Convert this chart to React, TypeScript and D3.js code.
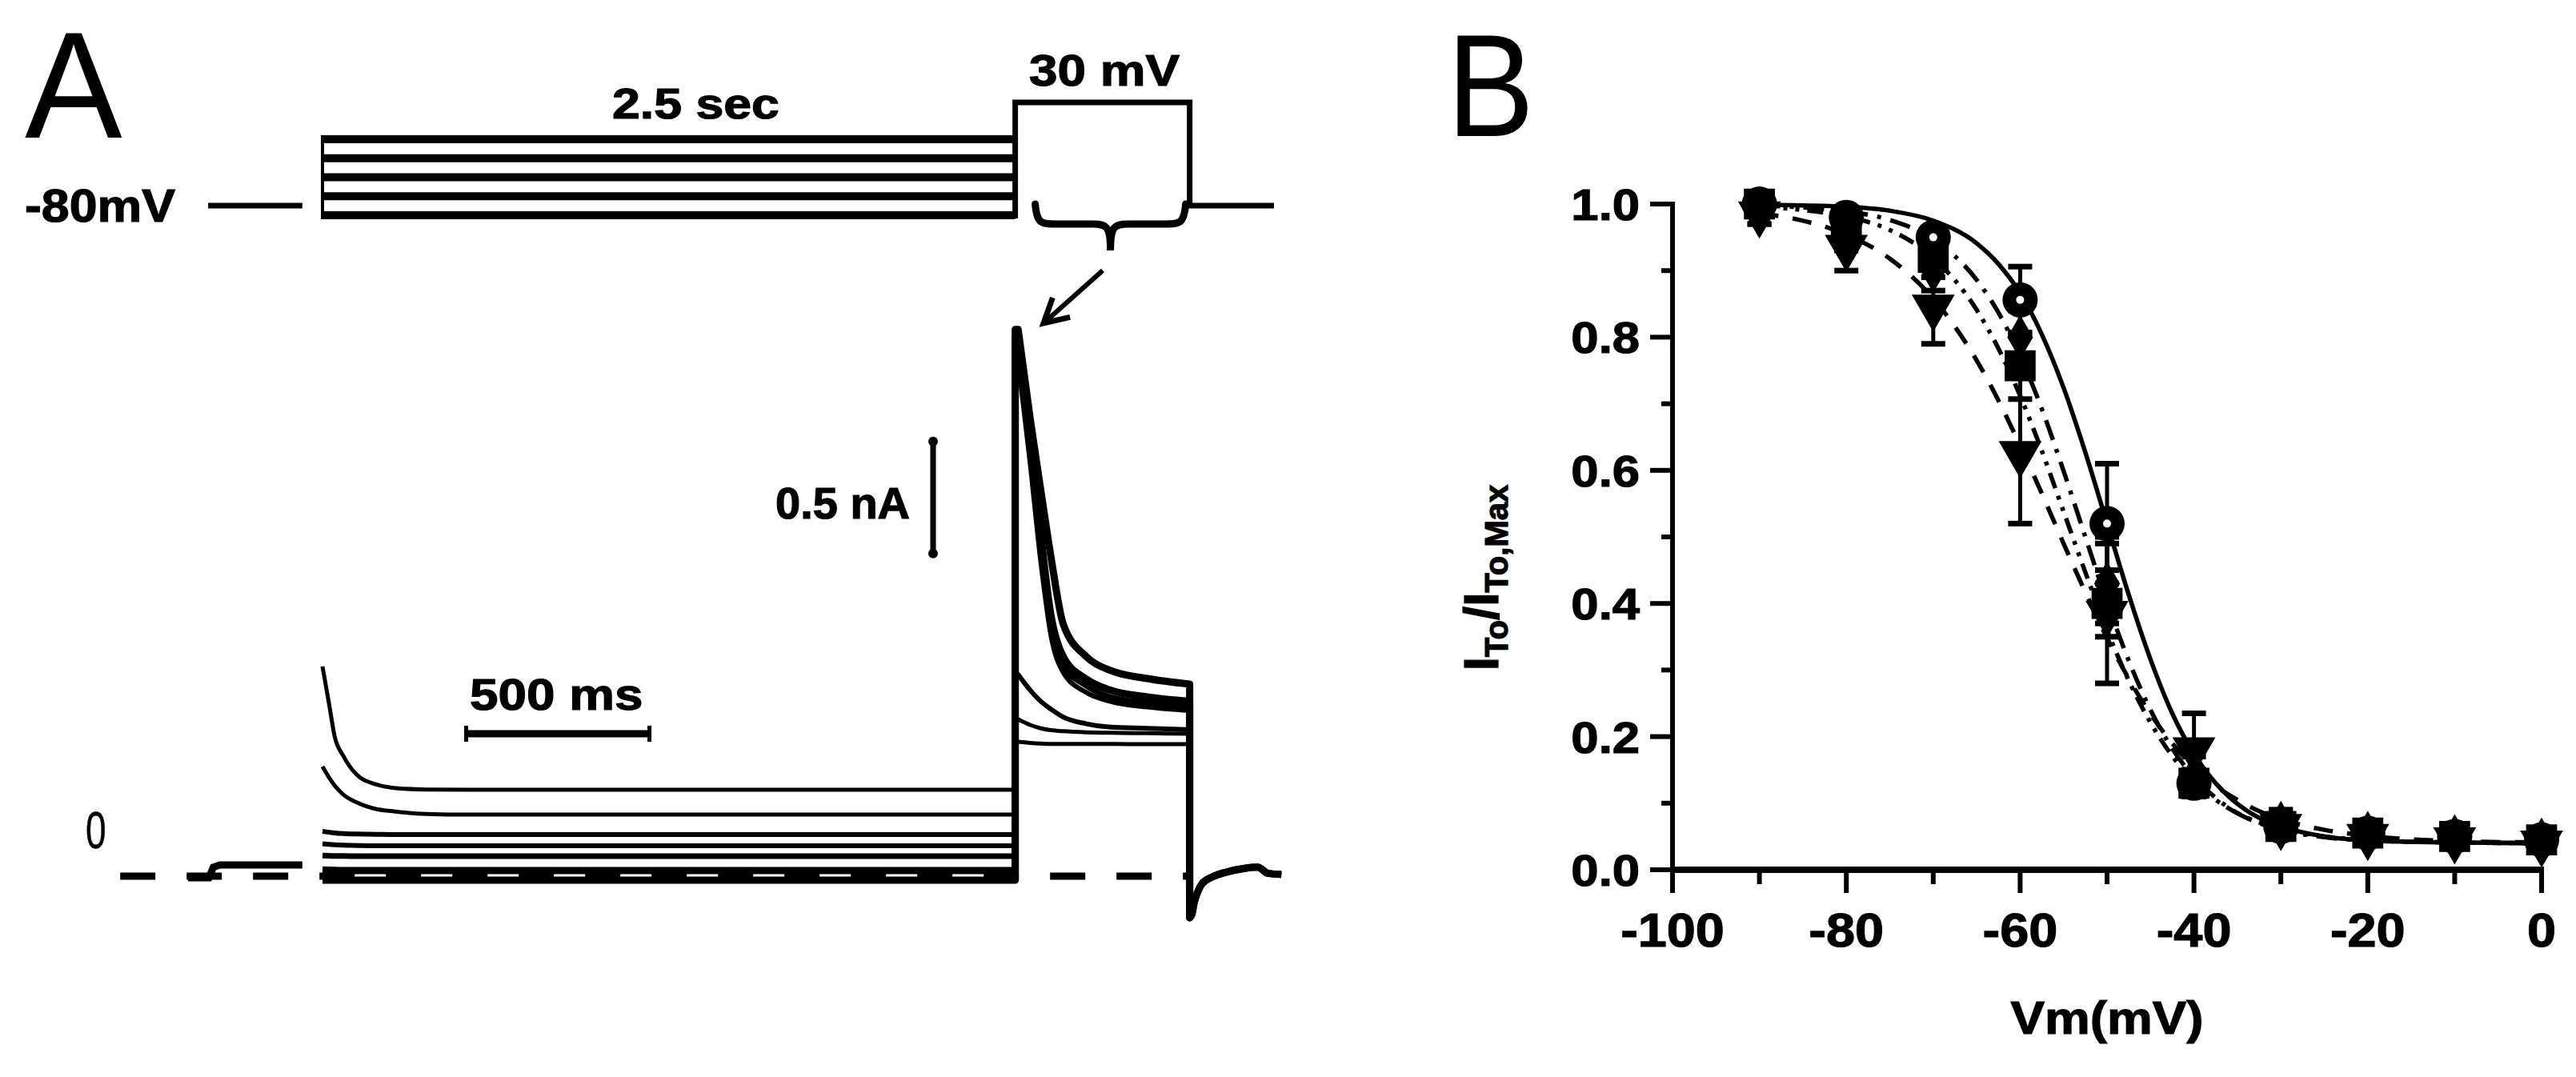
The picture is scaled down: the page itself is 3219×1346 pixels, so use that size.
import React, { useEffect } from 'react';
import * as d3 from 'd3';

const FONT = '"Liberation Sans", Arial, Helvetica, sans-serif';

// ---------------- Panel A : protocol (schematic, mV) ----------------
const PRE_LEVELS = [-85, -75, -65, -55, -45];
const HOLD_MV = -80;
const TEST_MV = 30;
const T_HOLD_START = -312;
const T_HOLD_END = -55;
const T_STEP = 1890; // end of 2.5 s prepulse (ms, drawing time base)
const T_END = 2366; // end of test pulse
const T_AFTER = 2596;
const T_BASE_START = -552;

// ---------------- Panel A : current traces (nA) ----------------
const PRE_T = [0, 18, 33, 57, 92, 145, 190, 280, 400, 1890];
const PRE_CURRENTS = [
  [0.936, 0.768, 0.625, 0.536, 0.455, 0.41, 0.395, 0.387, 0.386, 0.386],
  [0.489, 0.44, 0.405, 0.364, 0.33, 0.3, 0.29, 0.278, 0.275, 0.275],
  [0.2, 0.196, 0.193, 0.19, 0.188, 0.187, 0.186, 0.186, 0.186, 0.186],
  [0.145, 0.142, 0.14, 0.138, 0.137, 0.136, 0.136, 0.136, 0.136, 0.136],
  [0.092, 0.091, 0.09, 0.09, 0.089, 0.089, 0.089, 0.089, 0.089, 0.089],
  [0.028, 0.027, 0.026, 0.025, 0.025, 0.025, 0.025, 0.025, 0.025, 0.025],
  [-0.018, -0.018, -0.018, -0.018, -0.018, -0.018, -0.018, -0.018, -0.018, -0.018],
];
const TEST_DT = [8, 41, 70, 98, 131, 194, 260, 360, 476];
const TEST_CURRENTS = [
  [0.6, 0.595, 0.592, 0.59, 0.59, 0.59, 0.59, 0.589, 0.589],
  [0.7, 0.675, 0.66, 0.652, 0.647, 0.642, 0.64, 0.638, 0.636],
  [0.9, 0.83, 0.78, 0.745, 0.71, 0.68, 0.665, 0.66, 0.654],
  [2.3, 1.84, 1.4, 1.07, 0.91, 0.82, 0.78, 0.755, 0.739],
  [2.36, 1.9, 1.46, 1.11, 0.94, 0.85, 0.8, 0.775, 0.757],
  [2.4, 1.95, 1.52, 1.16, 0.98, 0.88, 0.83, 0.8, 0.78],
  [2.44, 2.04, 1.72, 1.42, 1.125, 0.98, 0.918, 0.882, 0.857],
];
const SWEEP_WIDTHS = [5, 5, 6, 6, 7, 9, 9];
const TAIL_DT = [0, 6, 12, 22, 33, 60, 100, 150, 185, 215, 250];
const TAIL_I = [-0.186, -0.17, -0.12, -0.07, -0.035, -0.005, 0.018, 0.035, 0.04, 0.012, 0.008];
const HOLD_T = [-367, -310, -298, -280, -55];
const HOLD_I = [-0.007, -0.007, 0.04, 0.05, 0.05];
const SCALE_BAR_MS = 500;
const SCALE_BAR_NA = 0.5;

// ---------------- Panel B : steady-state inactivation ----------------
const VM = [-90, -80, -70, -60, -50, -40, -30, -20, -10, 0];
const CIRCLE_Y = [1.0, 0.98, 0.95, 0.856, 0.52, 0.13, 0.065, 0.055, 0.05, 0.045];
const CIRCLE_E = [0.01, 0.01, 0.015, 0.05, 0.09, 0.02, 0.015, 0.01, 0.01, 0.01];
const SQUARE_Y = [1.0, 0.97, 0.92, 0.757, 0.4, 0.13, 0.065, 0.055, 0.05, 0.045];
const SQUARE_E = [0.015, 0.02, 0.03, 0.05, 0.05, 0.02, 0.015, 0.01, 0.01, 0.01];
const DIAMOND_Y = [0.99, 0.96, 0.9, 0.8, 0.43, 0.14, 0.07, 0.055, 0.05, 0.045];
const DIAMOND_E = [0.02, 0.03, 0.03, 0.04, 0.06, 0.03, 0.02, 0.015, 0.015, 0.015];
const TRI_Y = [0.99, 0.94, 0.85, 0.63, 0.39, 0.185, 0.07, 0.055, 0.05, 0.045];
const TRI_E = [0.02, 0.04, 0.06, 0.11, 0.11, 0.05, 0.02, 0.015, 0.015, 0.015];

const FIT_V = [-90, -85, -80, -75, -70, -65, -62.5, -60, -57.5, -55, -52.5, -50, -47.5, -45, -42.5, -40, -37.5, -35, -32.5, -30, -25, -20, -10, 0];
const FIT_SOLID = [0.999, 0.998, 0.996, 0.99, 0.975, 0.941, 0.91, 0.866, 0.804, 0.724, 0.627, 0.52, 0.413, 0.316, 0.235, 0.174, 0.13, 0.099, 0.078, 0.065, 0.05, 0.044, 0.041, 0.04];
const FIT_DASHDOT = [0.998, 0.995, 0.989, 0.976, 0.947, 0.886, 0.837, 0.772, 0.692, 0.599, 0.5, 0.402, 0.314, 0.24, 0.182, 0.139, 0.108, 0.085, 0.07, 0.06, 0.049, 0.044, 0.041, 0.04];
const FIT_DASHDOTDOT = [0.996, 0.991, 0.981, 0.961, 0.919, 0.841, 0.783, 0.712, 0.629, 0.538, 0.447, 0.36, 0.284, 0.221, 0.171, 0.133, 0.105, 0.085, 0.071, 0.062, 0.05, 0.045, 0.041, 0.04];
const FIT_DASHED = [0.986, 0.975, 0.954, 0.918, 0.858, 0.765, 0.705, 0.637, 0.565, 0.49, 0.417, 0.348, 0.287, 0.234, 0.19, 0.154, 0.126, 0.105, 0.088, 0.076, 0.06, 0.051, 0.043, 0.041];

const X_MINOR = [-90, -70, -50, -30, -10];
const Y_MINOR = [0.1, 0.3, 0.5, 0.7, 0.9];

function Txt({ x, y, size, sx = 1, anchor = 'start', weight = 'bold', heavy = 1.2, children }: any) {
  return (
    <text
      transform={`translate(${x},${y}) scale(${sx},1)`}
      fontSize={size}
      fontWeight={weight}
      textAnchor={anchor}
      fontFamily={FONT}
      fill="#000"
      stroke="#000"
      strokeWidth={heavy}
    >
      {children}
    </text>
  );
}

export default function App() {
  useEffect(() => {
    document.body.style.margin = '0';
  }, []);

  // ---- Panel A scales
  const tA = d3.scaleLinear().domain([0, 500]).range([403, 632]);
  const iA = d3.scaleLinear().domain([0, 0.5]).range([1095, 955]);
  const vA = d3.scaleLinear().domain([-85, -45, 30]).range([268.9, 174, 128]);

  const lineT = d3
    .line<[number, number]>()
    .x((d) => tA(d[0]))
    .y((d) => iA(d[1]))
    .curve(d3.curveMonotoneX);

  const sweep = (pre: number[], test: number[]) => {
    const p1 = lineT(PRE_T.map((t, i) => [t, pre[i]] as [number, number])) || '';
    const p2 = lineT(TEST_DT.map((t, i) => [T_STEP + t, test[i]] as [number, number])) || '';
    const p3 = lineT(TAIL_DT.map((t, i) => [T_END + t, TAIL_I[i]] as [number, number])) || '';
    return (
      p1 +
      `L${tA(T_STEP)},${iA(test[0])}` +
      p2.replace(/^M/, 'L') +
      `L${tA(T_END)},${iA(test[test.length - 1])}` +
      p3.replace(/^M/, 'L')
    );
  };

  const holdPath =
    d3
      .line<[number, number]>()
      .x((d) => tA(d[0]))
      .y((d) => iA(d[1]))
      .curve(d3.curveLinear)(HOLD_T.map((t, i) => [t, HOLD_I[i]] as [number, number])) || '';

  // protocol paths
  const protoStack = PRE_LEVELS.map((v) => ({ x1: tA(0), x2: tA(T_STEP), y: vA(v) }));
  const testBox = `M${tA(T_STEP)},${vA(PRE_LEVELS[0]) + 4} V${vA(TEST_MV)} H${tA(T_END)} V${vA(HOLD_MV)} H${tA(T_AFTER)}`;

  // brace under the test pulse
  const bx0 = tA(T_STEP) + 25;
  const bx1 = tA(T_END) - 5;
  const bm = (bx0 + bx1) / 2;
  const by0 = vA(HOLD_MV) - 2;
  const by1 = by0 + 25;
  const by2 = by0 + 58;
  const brace = `M${bx0},${by0} C${bx0 + 2},${by1} ${bx0 + 8},${by1} ${bx0 + 26},${by1} L${bm - 22},${by1} C${bm - 4},${by1} ${bm},${by1 + 4} ${bm},${by2} C${bm},${by1 + 4} ${bm + 4},${by1} ${bm + 22},${by1} L${bx1 - 26},${by1} C${bx1 - 8},${by1} ${bx1 - 2},${by1} ${bx1},${by0}`;

  // arrow
  const tip = [1304, 404];
  const tail = [1378, 338];
  const ang = Math.atan2(tail[1] - tip[1], tail[0] - tip[0]);
  const wl = 34;
  const w1 = [tip[0] + wl * Math.cos(ang + 0.5), tip[1] + wl * Math.sin(ang + 0.5)];
  const w2 = [tip[0] + wl * Math.cos(ang - 0.5), tip[1] + wl * Math.sin(ang - 0.5)];

  // ---- Panel B scales
  const xB = d3.scaleLinear().domain([-100, 0]).range([2090, 3176]);
  const yB = d3.scaleLinear().domain([0, 1]).range([1087, 255]);
  const fitLine = (vals: number[]) =>
    d3
      .line<number>()
      .x((_, i) => xB(FIT_V[i]))
      .y((d) => yB(d))
      .curve(d3.curveMonotoneX)(vals) || '';

  const fits = [
    { vals: FIT_DASHED, dash: '24 18' },
    { vals: FIT_DASHDOTDOT, dash: '20 10 5 10 5 10' },
    { vals: FIT_DASHDOT, dash: '26 12 5 12' },
    { vals: FIT_SOLID, dash: undefined },
  ];

  const triPath = d3.symbol().type(d3.symbolTriangle).size(1250)() || '';
  const sqPath = d3.symbol().type(d3.symbolSquare).size(1500)() || '';
  const diaPath = d3.symbol().type(d3.symbolDiamond).size(900)() || '';

  const series = [
    { y: CIRCLE_Y, e: CIRCLE_E, kind: 'circ' },
    { y: TRI_Y, e: TRI_E, kind: 'tri' },
    { y: DIAMOND_Y, e: DIAMOND_E, kind: 'dia' },
    { y: SQUARE_Y, e: SQUARE_E, kind: 'sq' },
  ];

  const marker = (kind: string, cx: number, cy: number, key: string) => {
    if (kind === 'circ')
      return (
        <g key={key}>
          <circle cx={cx} cy={cy} r={22} fill="#000" />
          <circle cx={cx} cy={cy} r={5} fill="#fff" />
        </g>
      );
    if (kind === 'tri')
      return <path key={key} d={triPath} transform={`translate(${cx},${cy + 4}) rotate(180)`} fill="#000" />;
    if (kind === 'sq') return <path key={key} d={sqPath} transform={`translate(${cx},${cy})`} fill="#000" />;
    return <path key={key} d={diaPath} transform={`translate(${cx},${cy})`} fill="#000" />;
  };

  const yLab = d3.format('.1f');

  return (
    <svg
      width={3219}
      height={1346}
      style={{ display: 'block', position: 'absolute', left: 0, top: 0, background: '#fff' }}
    >
      <rect x={0} y={0} width={3219} height={1346} fill="#fff" />

      {/* ================= Panel A ================= */}
      <Txt x={31} y={172} size={190} sx={0.96} weight="normal" heavy={0}>A</Txt>
      <Txt x={765} y={148} size={54} sx={1.16}>2.5 sec</Txt>
      <Txt x={1286} y={107} size={56} sx={1.14}>30 mV</Txt>
      <Txt x={31} y={277} size={58} sx={1.08}>-80mV</Txt>

      {/* protocol */}
      <g stroke="#000" fill="none">
        <line x1={tA(T_HOLD_START)} x2={tA(T_HOLD_END)} y1={vA(HOLD_MV)} y2={vA(HOLD_MV)} strokeWidth={7} />
        {protoStack.map((s, i) => (
          <line key={i} x1={s.x1} x2={s.x2} y1={s.y} y2={s.y} strokeWidth={10} />
        ))}
        <line x1={tA(0)} x2={tA(0)} y1={vA(PRE_LEVELS[PRE_LEVELS.length - 1]) - 5} y2={vA(PRE_LEVELS[0]) + 5} strokeWidth={4} />
        <path d={testBox} strokeWidth={7} />
        <path d={brace} strokeWidth={9} strokeLinecap="round" />
        <line x1={tail[0]} y1={tail[1]} x2={tip[0]} y2={tip[1]} strokeWidth={6} />
        <path d={`M${w1[0]},${w1[1]} L${tip[0]},${tip[1]} L${w2[0]},${w2[1]}`} strokeWidth={7} strokeLinejoin="miter" />
      </g>

      {/* zero-current baseline */}
      <line
        x1={tA(T_BASE_START)}
        x2={tA(T_END)}
        y1={iA(0)}
        y2={iA(0)}
        stroke="#000"
        strokeWidth={9}
        strokeDasharray="44 39"
      />
      <path d={holdPath} stroke="#000" strokeWidth={9} fill="none" />
      <Txt x={107} y={1060} size={64} sx={0.72} weight="normal" heavy={0.5}>0</Txt>

      {/* sweeps */}
      <g fill="none" stroke="#000" strokeLinejoin="round">
        {PRE_CURRENTS.map((pre, i) => (
          <path key={i} d={sweep(pre, TEST_CURRENTS[i])} strokeWidth={SWEEP_WIDTHS[i]} />
        ))}
      </g>

      {/* scale bars */}
      <g stroke="#000">
        <line x1={tA(392)} x2={tA(392 + SCALE_BAR_MS)} y1={917} y2={917} strokeWidth={9} />
        <line x1={tA(392)} x2={tA(392)} y1={907} y2={927} strokeWidth={5} />
        <line x1={tA(392 + SCALE_BAR_MS)} x2={tA(392 + SCALE_BAR_MS)} y1={907} y2={927} strokeWidth={5} />
        <line x1={1166} x2={1166} y1={iA(1.94)} y2={iA(1.94 - SCALE_BAR_NA)} strokeWidth={7} />
        <circle cx={1166} cy={iA(1.94)} r={6} fill="#000" stroke="none" />
        <circle cx={1166} cy={iA(1.94 - SCALE_BAR_NA)} r={6} fill="#000" stroke="none" />
      </g>
      <Txt x={587} y={887} size={56} sx={1.14}>500 ms</Txt>
      <Txt x={969} y={648} size={56} sx={1.0}>0.5 nA</Txt>

      {/* ================= Panel B ================= */}
      <Txt x={1808} y={170} size={182} sx={0.9} weight="normal" heavy={0}>B</Txt>

      {/* axes */}
      <g stroke="#000">
        <line x1={xB(-100)} x2={xB(-100)} y1={yB(1) - 3} y2={yB(0)} strokeWidth={6} />
        <line x1={xB(-100) - 3} x2={xB(0) + 3} y1={yB(0)} y2={yB(0)} strokeWidth={8} />
        {yB.ticks(5).map((t) => (
          <line key={'yt' + t} x1={xB(-100) - 28} x2={xB(-100)} y1={yB(t)} y2={yB(t)} strokeWidth={6} />
        ))}
        {Y_MINOR.map((t) => (
          <line key={'ym' + t} x1={xB(-100) - 14} x2={xB(-100)} y1={yB(t)} y2={yB(t)} strokeWidth={6} />
        ))}
        {xB.ticks(5).map((t) => (
          <line key={'xt' + t} x1={xB(t)} x2={xB(t)} y1={yB(0)} y2={yB(0) + 29} strokeWidth={6} />
        ))}
        {X_MINOR.map((t) => (
          <line key={'xm' + t} x1={xB(t)} x2={xB(t)} y1={yB(0)} y2={yB(0) + 18} strokeWidth={6} />
        ))}
      </g>
      {yB.ticks(5).map((t) => (
        <Txt key={'yl' + t} x={xB(-100) - 41} y={yB(t) + 20} size={56} sx={1.1} anchor="end">
          {yLab(t)}
        </Txt>
      ))}
      {xB.ticks(5).map((t) => (
        <Txt key={'xl' + t} x={xB(t)} y={1183} size={60} sx={1.08} anchor="middle">
          {String(t)}
        </Txt>
      ))}
      <Txt x={(xB(-100) + xB(0)) / 2} y={1292} size={58} sx={1.1} anchor="middle">
        Vm(mV)
      </Txt>
      <text
        transform="translate(1872,722) rotate(-90)"
        textAnchor="middle"
        fontFamily={FONT}
        fontWeight="bold"
        fontSize={62}
        stroke="#000"
        strokeWidth={1.2}
      >
        <tspan>I</tspan>
        <tspan fontSize={40} dy={12}>To</tspan>
        <tspan dy={-12}>/I</tspan>
        <tspan fontSize={40} dy={12}>To,Max</tspan>
      </text>

      {/* fits */}
      <g fill="none" stroke="#000" strokeWidth={5.5}>
        {fits.map((f, i) => (
          <path key={i} d={fitLine(f.vals)} strokeDasharray={f.dash} />
        ))}
      </g>

      {/* error bars */}
      <g stroke="#000" strokeWidth={5}>
        {series.map((s) =>
          VM.map((v, i) => {
            const cx = xB(v);
            const y1 = yB(s.y[i] + s.e[i]);
            const y2 = yB(s.y[i] - s.e[i]);
            return (
              <g key={s.kind + v}>
                <line x1={cx} x2={cx} y1={y1} y2={y2} />
                <line x1={cx - 15} x2={cx + 15} y1={y1} y2={y1} strokeWidth={7} />
                <line x1={cx - 15} x2={cx + 15} y1={y2} y2={y2} strokeWidth={7} />
              </g>
            );
          })
        )}
      </g>

      {/* markers */}
      <g>
        {series.map((s) => VM.map((v, i) => marker(s.kind, xB(v), yB(s.y[i]), s.kind + 'm' + v)))}
      </g>
    </svg>
  );
}
